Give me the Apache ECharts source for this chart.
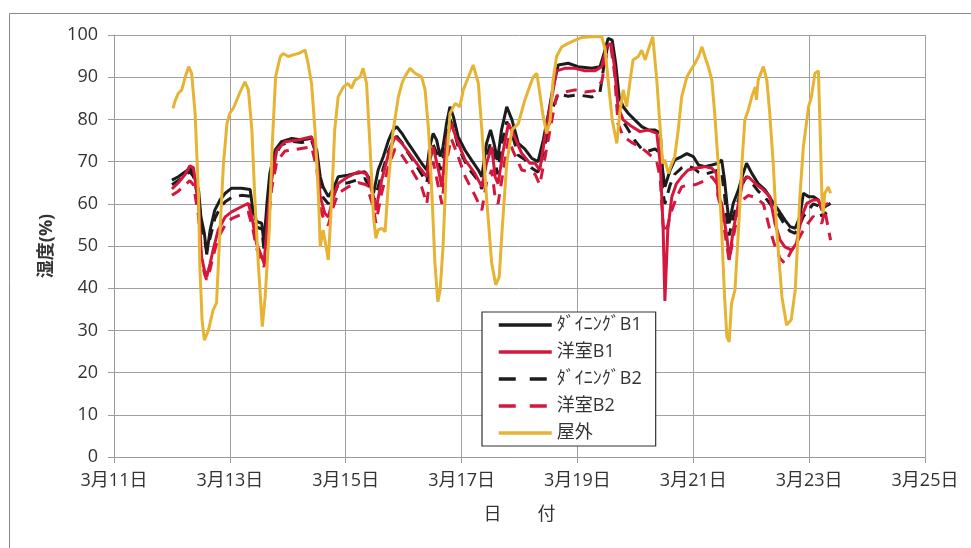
<!DOCTYPE html>
<html><head><meta charset="utf-8">
<script src="https://cdn.jsdelivr.net/npm/echarts@6/dist/echarts.min.js"></script>
<style>html,body{margin:0;padding:0;background:#fff}#c{width:971px;height:548px}</style>
</head><body><div id="c"></div>
<script>
// x-axis ticks (day of March) and y-axis ticks
const xTicks = [11, 13, 15, 17, 19, 21, 23, 25];
const yTicks = [0, 10, 20, 30, 40, 50, 60, 70, 80, 90, 100];
const seriesNames = ['ﾀﾞｲﾆﾝｸﾞB1', '洋室B1', 'ﾀﾞｲﾆﾝｸﾞB2', '洋室B2', '屋外'];

// ダイニングB1 (solid black)
const dB1T = [12.00,12.11,12.23,12.31,12.37,12.46,12.50,12.56,12.60,12.66,12.74,12.83,12.92,13.03,13.20,13.35,13.39,13.46,13.55,13.59,13.64,13.69,13.78,13.89,14.07,14.24,14.41,14.50,14.56,14.61,14.70,14.79,14.87,15.04,15.16,15.33,15.39,15.48,15.56,15.65,15.74,15.82,15.88,15.97,16.08,16.20,16.31,16.40,16.45,16.51,16.57,16.63,16.68,16.74,16.80,16.86,16.94,17.06,17.17,17.29,17.35,17.43,17.50,17.56,17.62,17.69,17.78,17.87,17.98,18.09,18.21,18.32,18.41,18.50,18.58,18.67,18.84,19.01,19.25,19.39,19.46,19.53,19.60,19.66,19.72,19.79,19.88,19.99,20.11,20.22,20.34,20.43,20.47,20.51,20.60,20.68,20.80,20.89,21.00,21.09,21.20,21.32,21.43,21.49,21.54,21.58,21.62,21.69,21.78,21.86,21.92,22.01,22.12,22.24,22.35,22.47,22.58,22.67,22.76,22.84,22.90,22.99,23.07,23.16,23.22,23.27,23.37];
const dB1V = [65.6,66.4,67.6,68.4,67.2,63.3,56.9,53,48,53.8,58.5,60.9,62.5,63.7,63.7,63.4,59.3,55.8,55.4,50.6,60.1,67.2,72.7,74.7,75.5,75.1,75.5,72.7,66.4,64,61.7,63.7,66.4,66.8,67.2,67.6,66.4,62.5,68,71.2,75.1,77.5,78.3,76.7,74.3,71.9,69.6,68,73.5,76.7,75.1,71.2,73.5,79,83,80.6,75.9,72.7,70.4,68,66.4,74.3,77.5,74.3,70.4,77.5,83,79.9,74.3,73,70.8,70,75.1,81.4,87.7,92.9,93.3,92.5,92.1,92.5,95.6,99.2,98.8,93.3,85.4,83,81.4,79.9,78.3,77.5,77.5,76.7,68,64,68,70.4,71.2,71.9,71.2,69.2,68.8,69.2,69.6,70.4,65.6,60.1,55.4,60.1,63.3,67.2,69.6,67.2,64.8,63.3,60.9,58.5,56.2,54.6,54.2,56.9,62.5,61.7,61.7,60.9,58.5,59.3,60.1];

// 洋室B1 (solid red)
const yB1T = [12.00,12.11,12.23,12.31,12.37,12.46,12.51,12.56,12.60,12.66,12.71,12.80,12.92,13.03,13.20,13.32,13.39,13.46,13.55,13.59,13.66,13.72,13.81,13.95,14.18,14.41,14.50,14.56,14.64,14.70,14.79,14.87,15.04,15.22,15.36,15.48,15.52,15.62,15.74,15.85,15.97,16.14,16.31,16.40,16.45,16.51,16.60,16.66,16.74,16.82,16.92,17.06,17.23,17.35,17.43,17.52,17.58,17.63,17.72,17.81,17.89,18.04,18.18,18.27,18.35,18.44,18.56,18.64,18.78,18.96,19.13,19.30,19.42,19.50,19.58,19.64,19.70,19.79,19.94,20.08,20.22,20.37,20.43,20.48,20.51,20.56,20.63,20.71,20.80,20.91,21.03,21.20,21.32,21.40,21.43,21.49,21.58,21.62,21.69,21.78,21.86,21.95,22.07,22.21,22.32,22.41,22.50,22.58,22.70,22.78,22.87,22.96,23.07,23.16,23.22,23.27,23.33];
const yB1V = [63.5,65,67,69,68.6,60.1,47.5,44.3,42.7,45.9,49,53.8,56.9,58.1,59.3,60.1,56.2,50.6,47.5,45.9,57.7,65.6,72.7,74.7,75.1,75.9,71.2,61.7,57.7,56.9,61.7,64.8,66.4,67.6,67.2,61.7,58.5,65.6,71.9,75.9,74.3,71.2,68,66.4,71.2,73.5,68,64,75.1,79,75.1,70.4,67.2,64,69.6,73.5,66.4,64.8,72.7,79,76.7,71.9,69.6,69.6,68,75.9,85.4,91.5,92.1,92.1,91.5,91.5,92.5,97.2,98,92.5,83,79.9,78.3,77.1,77.5,76.7,69.6,53.8,37,53.8,61.7,64.8,66.4,68,68.4,68.8,68.4,67.2,61.7,60.1,52.2,46.7,53.8,60.1,65.6,66.4,64.8,63.3,61.7,55.4,51.4,49.8,49,50.6,56.9,60.1,60.9,60.9,58.5,59.7,60.1];

// ダイニングB2 (dashed black)
const dB2T = [12.00,12.11,12.23,12.31,12.37,12.46,12.52,12.60,12.66,12.74,12.83,12.92,13.03,13.20,13.35,13.39,13.46,13.55,13.59,13.64,13.69,13.78,13.89,14.07,14.24,14.41,14.50,14.56,14.61,14.70,14.79,14.87,15.04,15.16,15.33,15.39,15.48,15.56,15.65,15.74,15.82,15.88,15.97,16.08,16.20,16.31,16.40,16.45,16.51,16.57,16.63,16.68,16.74,16.80,16.86,16.94,17.06,17.17,17.29,17.35,17.43,17.50,17.56,17.62,17.69,17.78,17.87,17.98,18.09,18.21,18.32,18.41,18.50,18.58,18.67,18.84,19.01,19.25,19.39,19.46,19.53,19.60,19.66,19.72,19.79,19.88,19.99,20.11,20.22,20.34,20.43,20.47,20.51,20.60,20.68,20.80,20.89,21.00,21.09,21.20,21.32,21.43,21.49,21.54,21.58,21.62,21.69,21.78,21.86,21.92,22.01,22.12,22.24,22.35,22.47,22.58,22.67,22.76,22.84,22.90,22.99,23.07,23.16,23.22,23.27,23.37];
const dB2V = [64.5,65.5,66.8,67.6,66.5,61,54,49,52,56.5,59,60.5,61.5,62,61.8,58,54.5,54,49,58,65.5,71.5,74,74.8,74.5,75,71.5,64,61.5,60,62,64.5,65,65.5,66,64.5,60.5,64,68.5,72.5,75,76,74.5,72,69.5,67,65,70,74,72,68,70.5,76,80,78,73.5,70,67.5,65.5,63.5,71,74.5,71.5,67,74,79.5,76.5,71.5,70.5,68.5,67.5,72,78,83,86,85.5,85.8,85.3,86.5,93,98,97.5,91,82,79.5,77.5,75,73,72.5,73,72,63,60,64.5,67,68.5,69,68.5,67.5,67,67.5,68,67.5,62,56.5,52.5,57,61,65,66.5,65,63,61.5,59.5,57.5,55,53.5,53,55,57,58.5,60,59.5,57,58,56];

// 洋室B2 (dashed red)
const yB2T = [12.00,12.11,12.23,12.31,12.37,12.46,12.51,12.56,12.60,12.66,12.71,12.80,12.92,13.03,13.20,13.32,13.39,13.46,13.55,13.59,13.66,13.72,13.81,13.95,14.18,14.41,14.50,14.56,14.64,14.70,14.79,14.87,15.04,15.22,15.36,15.48,15.52,15.62,15.74,15.85,15.97,16.14,16.31,16.40,16.45,16.51,16.60,16.66,16.74,16.82,16.92,17.06,17.23,17.35,17.43,17.52,17.58,17.63,17.72,17.81,17.89,18.04,18.18,18.27,18.35,18.44,18.56,18.64,18.78,18.96,19.13,19.30,19.42,19.50,19.58,19.64,19.70,19.79,19.94,20.08,20.22,20.37,20.43,20.48,20.51,20.56,20.63,20.71,20.80,20.91,21.03,21.20,21.32,21.40,21.43,21.49,21.58,21.62,21.69,21.78,21.86,21.95,22.07,22.21,22.32,22.41,22.50,22.58,22.70,22.78,22.87,22.96,23.07,23.16,23.22,23.27,23.37];
const yB2V = [62,63,64.5,65.5,64.5,57,47,43.5,42,44.5,47.5,52,55,56.5,57.5,58,54.5,49.5,46.5,45,55,63.5,70,72.5,73,73.5,68.5,59,55.5,55,59.5,62.5,64,65,64.5,59,55.5,62.5,69,73,71.5,68,64,60,66,70,64,60,70,75.5,72,66.5,62,58.5,65,68,61.5,60,68,75.5,72.5,68,67.5,67,64.5,71,80,85.5,86.5,87,86.5,86.8,89,95,97,91,79,76,74.5,73.5,72,70,66,55,53,55,58.5,61.5,64,64.5,64.5,65.5,66.4,65,61.7,58,50,46.5,52,58.5,61,62,61.5,60,54,50,47,45.9,49,50.6,53,55,57,56,55.4,58.5,51.4];

// 屋外 (outdoor, gold)
const outT = [12.02,12.05,12.11,12.17,12.23,12.29,12.34,12.40,12.46,12.48,12.52,12.56,12.63,12.71,12.77,12.83,12.89,12.95,13.00,13.06,13.12,13.18,13.26,13.32,13.38,13.43,13.49,13.56,13.61,13.68,13.73,13.79,13.87,13.92,14.01,14.09,14.18,14.30,14.35,14.41,14.47,14.53,14.56,14.61,14.70,14.76,14.81,14.87,14.96,15.04,15.10,15.16,15.25,15.30,15.36,15.42,15.48,15.52,15.56,15.62,15.68,15.74,15.82,15.91,15.97,16.02,16.11,16.20,16.31,16.37,16.43,16.49,16.54,16.59,16.63,16.68,16.74,16.80,16.89,16.97,17.03,17.12,17.20,17.29,17.35,17.43,17.52,17.59,17.65,17.70,17.78,17.87,17.98,18.09,18.18,18.24,18.30,18.35,18.41,18.47,18.53,18.58,18.64,18.73,18.84,18.96,19.07,19.25,19.42,19.48,19.53,19.60,19.68,19.73,19.79,19.85,19.91,19.96,20.05,20.11,20.17,20.22,20.30,20.37,20.43,20.47,20.51,20.57,20.63,20.68,20.74,20.80,20.89,20.97,21.03,21.09,21.15,21.20,21.26,21.32,21.37,21.43,21.49,21.54,21.58,21.62,21.66,21.72,21.78,21.84,21.89,21.95,22.01,22.07,22.09,22.12,22.21,22.27,22.32,22.38,22.44,22.53,22.61,22.69,22.76,22.84,22.90,22.99,23.04,23.10,23.16,23.19,23.22,23.24,23.27,23.33,23.37];
const outV = [82.6,84.2,86.2,87,90.1,92.5,90.9,81.5,61.7,46,32.5,27.7,30,34.8,36.5,53.8,69.6,79,81.5,82.6,84.6,86.6,88.9,87,77.5,61.7,46,30.9,38,53.8,73.5,90.1,94.9,95.6,94.9,95.3,95.6,96.4,93.3,88.5,77.5,61.7,49.8,53.8,46.7,61.7,77.5,85.4,87.7,88.5,87.4,89.3,90.1,92.1,88.5,73.5,56.9,51.8,53.8,54.2,53.4,65.6,77.5,85.4,88.5,90.1,92.1,90.9,90.1,87,77.5,61.7,45.9,36.8,39.6,49.8,69.6,81.4,83.8,83,87,90.1,92.9,88.5,77.5,61.7,45.9,40.8,42.7,53.8,69.6,77.5,79,84.5,88,90.1,90.9,86.2,80.6,76.7,79.9,89.3,94.9,97.2,98,98.8,99.4,99.6,99.6,96.4,89.3,79.9,74.3,81.4,87,83,89.3,94.1,94.9,96.4,94.1,96.4,99.6,89.3,77.5,69.6,70.4,67.2,69.6,71.2,77.5,85.4,90.1,92,93.3,94.9,97.2,94.9,92.5,89.3,81.4,69.6,53.8,38,28.5,27.3,36.4,39.6,53.8,69.6,79.9,82.2,85.4,87.7,84.6,89.3,92.5,89.3,81.4,69.6,53.8,38,31.3,32.5,39.6,61.7,73.5,83,85.4,90.9,91.5,77.5,61.7,57.7,62.5,64,62.5];

const zip = (t, v) => t.map((d, i) => [d, v[i]]);
const FONT = "'Open Sans','Noto Sans CJK JP',sans-serif";
const TXT = '#333';
const legendDash = [17, 14];

const chart = echarts.init(document.getElementById('c'), null, {renderer: 'canvas'});
chart.setOption({
  animation: false,
  backgroundColor: '#fff',
  graphic: [{
    type: 'rect', silent: true, z: -1,
    shape: {x: 9.5, y: 13.5, width: 980, height: 560},
    style: {fill: 'none', stroke: '#8a8a8a', lineWidth: 1}
  }],
  grid: {left: 114, right: 46, top: 35, bottom: 91, containLabel: false},
  legend: {
    orient: 'vertical', left: 482, top: 312,
    data: seriesNames.map((n, i) => (i === 2 || i === 3)
      ? {name: n, lineStyle: {type: legendDash, width: 3.5}}
      : {name: n}),
    itemWidth: 53, itemHeight: 14, itemGap: 9,
    padding: [4, 14, 4, 15],
    itemStyle: {opacity: 0},
    lineStyle: {width: 3.5},
    backgroundColor: '#fff', borderColor: '#333', borderWidth: 1.2,
    textStyle: {fontFamily: FONT, fontSize: 18, color: TXT}
  },
  xAxis: {
    type: 'value', min: xTicks[0], max: xTicks[xTicks.length - 1], interval: 2,
    name: '日　　付', nameLocation: 'middle', nameGap: 49,
    nameTextStyle: {fontFamily: FONT, fontSize: 18, color: TXT},
    axisLine: {show: true, lineStyle: {color: '#9a9a9a', width: 1}},
    axisTick: {show: true, length: 6, lineStyle: {color: '#9a9a9a'}},
    axisLabel: {margin: 15, fontFamily: FONT, fontSize: 18, color: TXT,
      formatter: v => '3月' + v + '日'},
    splitLine: {show: true, lineStyle: {color: '#a0a0a0', width: 1}}
  },
  yAxis: {
    type: 'value', min: yTicks[0], max: yTicks[yTicks.length - 1], interval: 10,
    name: '湿度(%)', nameLocation: 'middle', nameGap: 58, nameRotate: 90,
    nameTextStyle: {fontFamily: FONT, fontSize: 18, fontWeight: 'bold', color: TXT},
    axisLine: {show: true, lineStyle: {color: '#9a9a9a', width: 1}},
    axisTick: {show: true, length: 6, lineStyle: {color: '#9a9a9a'}},
    axisLabel: {margin: 16, fontFamily: FONT, fontSize: 18, color: TXT},
    splitLine: {show: true, lineStyle: {color: '#a0a0a0', width: 1}}
  },
  series: [
    {name: seriesNames[0], type: 'line', data: zip(dB1T, dB1V), showSymbol: false, symbol: 'none', z: 4,
      lineStyle: {color: '#1c1c1c', width: 3}, itemStyle: {color: '#1c1c1c'}},
    {name: seriesNames[1], type: 'line', data: zip(yB1T, yB1V), showSymbol: false, symbol: 'none', z: 5,
      lineStyle: {color: '#d4173d', width: 3}, itemStyle: {color: '#d4173d'}},
    {name: seriesNames[2], type: 'line', data: zip(dB2T, dB2V), showSymbol: false, symbol: 'none', z: 3,
      lineStyle: {color: '#1c1c1c', width: 3, type: [11, 8]}, itemStyle: {color: '#1c1c1c'}},
    {name: seriesNames[3], type: 'line', data: zip(yB2T, yB2V), showSymbol: false, symbol: 'none', z: 3,
      lineStyle: {color: '#d4173d', width: 3, type: [11, 8]}, itemStyle: {color: '#d4173d'}},
    {name: seriesNames[4], type: 'line', data: zip(outT, outV), showSymbol: false, symbol: 'none', z: 6,
      lineStyle: {color: '#e6b333', width: 3}, itemStyle: {color: '#e6b333'}}
  ]
});
</script></body></html>
